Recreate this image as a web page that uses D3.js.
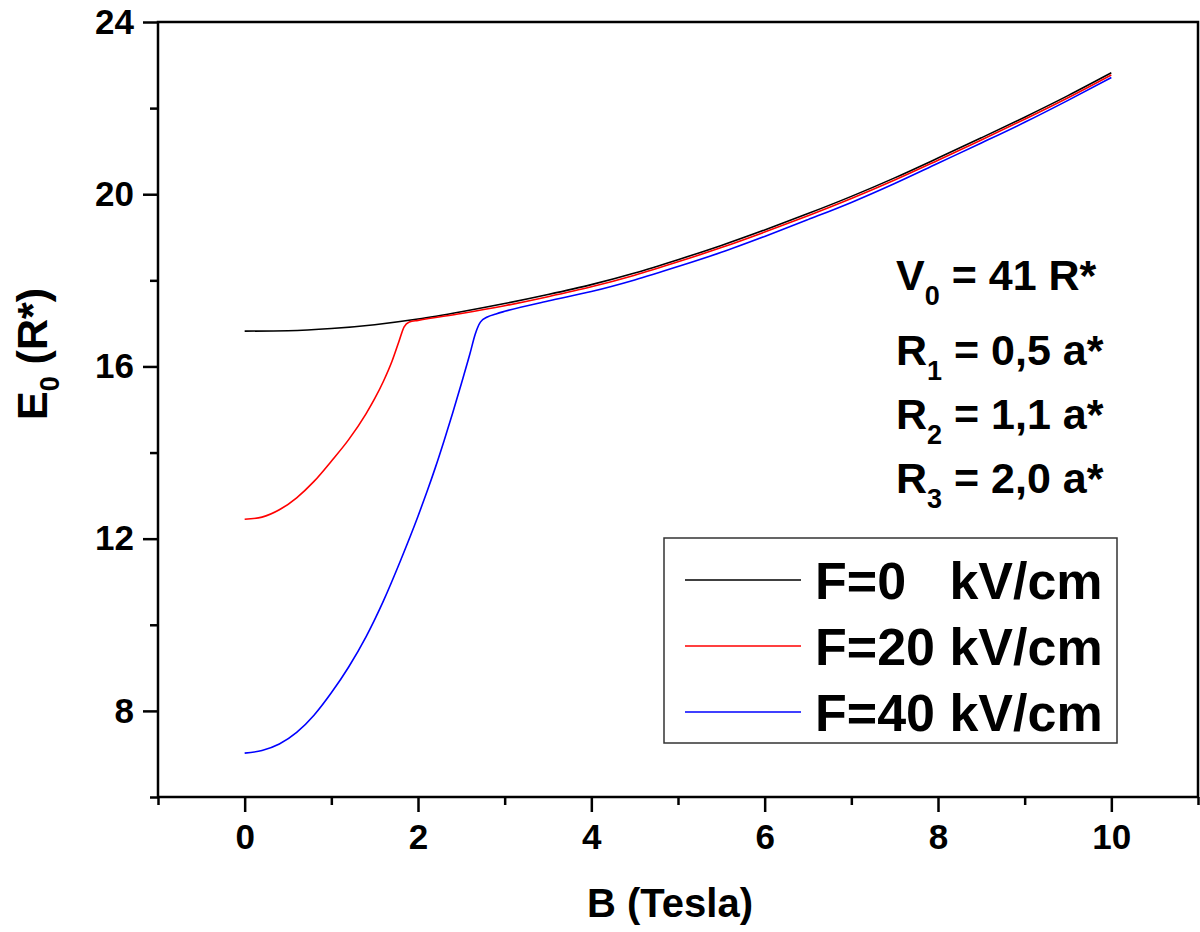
<!DOCTYPE html>
<html>
<head>
<meta charset="utf-8">
<script src="https://cdn.jsdelivr.net/npm/d3@7"></script>
<style>
  html, body { margin: 0; padding: 0; background: #fff; }
  svg { display: block; font-family: "Liberation Sans", Arial, sans-serif; font-weight: bold; }
  text { white-space: pre; }
</style>
</head>
<body>
<svg id="chart" width="1200" height="932"></svg>
<script>
// Ground-state energy E0 versus magnetic field B for three electric field strengths
const bF0 = [0, 0.5, 1, 1.5, 2, 2.5, 3, 3.5, 4, 4.5, 5, 5.5, 6, 6.5, 7, 7.5, 8, 8.5, 9, 9.5, 10];
const eF0 = [16.82, 16.83, 16.88, 16.97, 17.10, 17.27, 17.46, 17.67, 17.90, 18.17, 18.48, 18.81, 19.17, 19.55, 19.95, 20.38, 20.84, 21.31, 21.79, 22.29, 22.82];

const bF20 = [0, 0.2, 0.4, 0.6, 0.8, 1.0, 1.2, 1.4, 1.5, 1.6, 1.7, 1.78, 1.84, 1.9, 2.0, 2.5, 3, 3.5, 4, 4.5, 5, 5.5, 6, 6.5, 7, 7.5, 8, 8.5, 9, 9.5, 10];
const eF20 = [12.45, 12.50, 12.67, 12.95, 13.33, 13.80, 14.30, 14.90, 15.25, 15.65, 16.12, 16.58, 16.92, 17.03, 17.07, 17.23, 17.41, 17.62, 17.85, 18.12, 18.43, 18.76, 19.12, 19.50, 19.90, 20.33, 20.79, 21.26, 21.74, 22.24, 22.77];

const bF40 = [0, 0.2, 0.4, 0.6, 0.8, 1.0, 1.2, 1.4, 1.6, 1.8, 2.0, 2.1, 2.2, 2.3, 2.4, 2.5, 2.6, 2.66, 2.72, 2.8, 2.9, 3.0, 3.5, 4, 4.5, 5, 5.5, 6, 6.5, 7, 7.5, 8, 8.5, 9, 9.5, 10];
const eF40 = [7.02, 7.08, 7.23, 7.50, 7.90, 8.42, 9.02, 9.72, 10.55, 11.50, 12.52, 13.07, 13.65, 14.27, 14.92, 15.60, 16.30, 16.75, 17.03, 17.15, 17.22, 17.28, 17.52, 17.74, 18.01, 18.32, 18.65, 19.02, 19.41, 19.81, 20.25, 20.72, 21.19, 21.67, 22.18, 22.71];

const seriesNames = ["F=0   kV/cm", "F=20 kV/cm", "F=40 kV/cm"];
const seriesColors = ["#000000", "#ff0000", "#0000ff"];

const xTicks = [0, 2, 4, 6, 8, 10];
const yTicks = [8, 12, 16, 20, 24];

const params = [
  { main: "V", sub: "0", rest: " = 41 R*" },
  { main: "R", sub: "1", rest: " = 0,5 a*" },
  { main: "R", sub: "2", rest: " = 1,1 a*" },
  { main: "R", sub: "3", rest: " = 2,0 a*" }
];

const svg = d3.select("#chart");
const plotLeft = 158, plotRight = 1198, plotTop = 22, plotBottom = 797;

const x = d3.scaleLinear().domain([-1, 11]).range([plotLeft, plotRight]);
const y = d3.scaleLinear().domain([6, 24]).range([plotBottom, plotTop]);

// frame
svg.append("rect")
  .attr("x", plotLeft).attr("y", plotTop)
  .attr("width", plotRight - plotLeft).attr("height", plotBottom - plotTop)
  .attr("fill", "none").attr("stroke", "#000").attr("stroke-width", 2.5);

const fontFam = "Liberation Sans, Arial, sans-serif";

// bottom axis: minor then major ticks
const xMin = svg.append("g").attr("transform", `translate(0,${plotBottom})`)
  .call(d3.axisBottom(x).tickValues(d3.range(-1, 11.01, 1).filter(v => !xTicks.includes(v)))
    .tickSize(8).tickFormat(""));
xMin.select(".domain").remove();
const xMaj = svg.append("g").attr("transform", `translate(0,${plotBottom})`)
  .call(d3.axisBottom(x).tickValues(xTicks).tickSize(15).tickPadding(12).tickFormat(d3.format("d")));
xMaj.select(".domain").remove();

// left axis: minor then major ticks
const yMin = svg.append("g").attr("transform", `translate(${plotLeft},0)`)
  .call(d3.axisLeft(y).tickValues([6, 10, 14, 18, 22]).tickSize(8).tickFormat(""));
yMin.select(".domain").remove();
const yMaj = svg.append("g").attr("transform", `translate(${plotLeft},0)`)
  .call(d3.axisLeft(y).tickValues(yTicks).tickSize(15).tickPadding(9).tickFormat(d3.format("d")));
yMaj.select(".domain").remove();

svg.selectAll("g .tick line").attr("stroke", "#000").attr("stroke-width", 2.5);
svg.selectAll("g .tick text").attr("font-size", 35).attr("font-weight", "bold")
  .attr("font-family", fontFam).attr("fill", "#000");

// axis titles
svg.append("text")
  .attr("x", 670).attr("y", 917)
  .attr("text-anchor", "middle").attr("font-size", 40)
  .text("B (Tesla)");

const yTitle = svg.append("text")
  .attr("transform", "translate(47,354) rotate(-90)")
  .attr("text-anchor", "middle").attr("font-size", 43);
yTitle.append("tspan").text("E");
yTitle.append("tspan").attr("font-size", 27).attr("dy", 12).text("0");
yTitle.append("tspan").attr("dy", -12).text(" (R*)");

// curves
const line = d3.line()
  .x(d => x(d[0]))
  .y(d => y(d[1]))
  .curve(d3.curveMonotoneX);

const series = [
  d3.zip(bF0, eF0),
  d3.zip(bF20, eF20),
  d3.zip(bF40, eF40)
];

series.forEach((pts, i) => {
  svg.append("path")
    .datum(pts)
    .attr("d", line)
    .attr("fill", "none")
    .attr("stroke", seriesColors[i])
    .attr("stroke-width", 1.6);
});

// parameter annotations
const paramBaselines = [290, 365, 429, 493];
params.forEach((p, i) => {
  const t = svg.append("text")
    .attr("x", 896).attr("y", paramBaselines[i])
    .attr("font-size", 43);
  t.append("tspan").text(p.main);
  t.append("tspan").attr("font-size", 27).attr("dy", 15).text(p.sub);
  t.append("tspan").attr("dy", -15).text(p.rest);
});

// legend
const legend = svg.append("g");
legend.append("rect")
  .attr("x", 664).attr("y", 538)
  .attr("width", 453).attr("height", 205)
  .attr("fill", "#fff").attr("stroke", "#333").attr("stroke-width", 1.5);
const legendRows = [580, 646, 712];
seriesNames.forEach((name, i) => {
  legend.append("line")
    .attr("x1", 685).attr("x2", 801)
    .attr("y1", legendRows[i]).attr("y2", legendRows[i])
    .attr("stroke", seriesColors[i]).attr("stroke-width", 1.6);
  legend.append("text")
    .attr("x", 815).attr("y", legendRows[i] + 19)
    .attr("font-size", 52)
    .text(name);
});
</script>
</body>
</html>
